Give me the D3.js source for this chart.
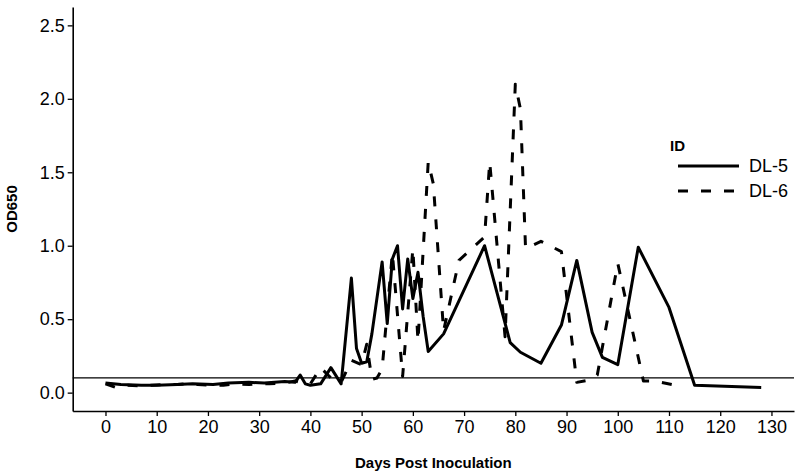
<!DOCTYPE html>
<head>
<meta charset="utf-8">
<script src="https://d3js.org/d3.v7.min.js"></script>
<style>
  body { margin:0; background:white; }
  text { font-family: "Liberation Sans", Arial, sans-serif; fill:black; }
</style>
</head>
<body>
<div id="container"></div>
<script>
// donnees
const daysDL5 = [0,3,7,10,14,17,21,24,28,31,35,37,38,39,40,42,44,46,48,49,50,51,52,54,55,56,57,58,59,60,61,62,63,66,74,79,81,85,89,92,95,97,100,104,110,115,128];
const odDL5   = [0.065,0.055,0.05,0.05,0.055,0.06,0.055,0.065,0.07,0.065,0.075,0.07,0.12,0.06,0.05,0.06,0.17,0.06,0.78,0.3,0.2,0.21,0.4,0.89,0.47,0.91,1.0,0.57,0.91,0.64,0.82,0.52,0.28,0.4,1.0,0.34,0.275,0.2,0.46,0.9,0.41,0.24,0.19,0.99,0.58,0.05,0.035];

const daysDL6 = [0,2,4,7,9,11,14,16,18,21,23,25,28,30,32,35,37,38,40,42,44,46,48,50,51,52,53,54,56,58,60,61,63,64,66,69,74,75,78,80,81,82,85,89,92,95,96,100,105,107,112];
const odDL6   = [0.06,0.035,0.05,0.045,0.05,0.055,0.055,0.06,0.055,0.05,0.05,0.06,0.055,0.06,0.06,0.065,0.08,0.07,0.06,0.17,0.1,0.07,0.22,0.19,0.33,0.09,0.1,0.16,0.95,0.11,0.98,0.35,1.57,1.42,0.42,0.9,1.06,1.57,0.38,2.1,1.93,0.98,1.03,0.96,0.07,0.09,0.12,0.88,0.08,0.08,0.045];

const seriesNames = ["DL-5","DL-6"];
const xTicks = [0,10,20,30,40,50,60,70,80,90,100,110,120,130];
const yTicks = [0,0.5,1,1.5,2,2.5];
const seuil = 0.1;

width = 800;
height = 472;
margin = {left:72.7, top:7, right:6, bottom:61};
dash = "10,13";

const svg = d3.select("#container").append("svg")
    .attr("width", width)
    .attr("height", height);

let x = d3.scaleLinear()
    .domain([-6.4, 134.4])
    .range([margin.left, width - margin.right]);

let y = d3.scaleLinear()
    .domain([-0.125, 2.625])
    .range([height - margin.bottom, margin.top]);

// ligne horizontale a 0.1
svg.append("line")
    .attr("x1", x.range()[0]).attr("x2", x.range()[1])
    .attr("y1", y(seuil)).attr("y2", y(seuil))
    .attr("stroke", "black").attr("stroke-width", 1.3);

let line = d3.line()
    .x(d => x(d[0]))
    .y(d => y(d[1]));

let dl5 = daysDL5.map((d,i) => [d, odDL5[i]]);
let dl6 = daysDL6.map((d,i) => [d, odDL6[i]]);

svg.append("path")
    .datum(dl5)
    .attr("d", line)
    .attr("fill", "none").attr("stroke", "black")
    .attr("stroke-width", 3).attr("stroke-linejoin", "round");

svg.append("path")
    .datum(dl6)
    .attr("d", line)
    .attr("fill", "none").attr("stroke", "black")
    .attr("stroke-width", 3).attr("stroke-linejoin", "round")
    .attr("stroke-dasharray", dash);

// axes
let gx = svg.append("g")
    .attr("transform", "translate(0," + y.range()[0] + ")")
    .call(d3.axisBottom(x).tickValues(xTicks).tickSize(5).tickPadding(4).tickSizeOuter(0));

let gy = svg.append("g")
    .attr("transform", "translate(" + x.range()[0] + ",0)")
    .call(d3.axisLeft(y).tickValues(yTicks).tickFormat(d3.format(".1f")).tickSize(5).tickPadding(3).tickSizeOuter(0));

[gx, gy].forEach(g => {
    g.select(".domain").attr("stroke", "black").attr("stroke-width", 1.6);
    g.selectAll(".tick line").attr("stroke", "black").attr("stroke-width", 1.3);
    g.selectAll(".tick text").attr("fill", "black")
        .style("font-family", "Liberation Sans, Arial, sans-serif")
        .style("font-size", "18px");
});

svg.append("text")
    .attr("x", (x.range()[0] + x.range()[1]) / 2)
    .attr("y", 468)
    .attr("text-anchor", "middle")
    .style("font-size", "15px").style("font-weight", "bold")
    .text("Days Post Inoculation");

svg.append("text")
    .attr("transform", "translate(17," + (y.range()[0] + y.range()[1]) / 2 + ") rotate(-90)")
    .attr("text-anchor", "middle")
    .style("font-size", "15px").style("font-weight", "bold")
    .text("OD650");

// legende
let leg = svg.append("g").attr("transform", "translate(670,0)");

leg.append("text")
    .attr("x", 0).attr("y", 151)
    .style("font-size", "15px").style("font-weight", "bold")
    .text("ID");

leg.selectAll("line.key")
    .data(seriesNames).enter().append("line")
    .attr("class", "key")
    .attr("x1", 8).attr("x2", 69)
    .attr("y1", (d,i) => 166 + i*25).attr("y2", (d,i) => 166 + i*25)
    .attr("stroke", "black").attr("stroke-width", 3)
    .attr("stroke-dasharray", (d,i) => i == 0 ? null : dash);

leg.selectAll("text.lab")
    .data(seriesNames).enter().append("text")
    .attr("class", "lab")
    .attr("x", 79)
    .attr("y", (d,i) => 166 + i*25)
    .attr("dy", "0.35em")
    .style("font-size", "18px")
    .text(d => d);
</script>
</body>
